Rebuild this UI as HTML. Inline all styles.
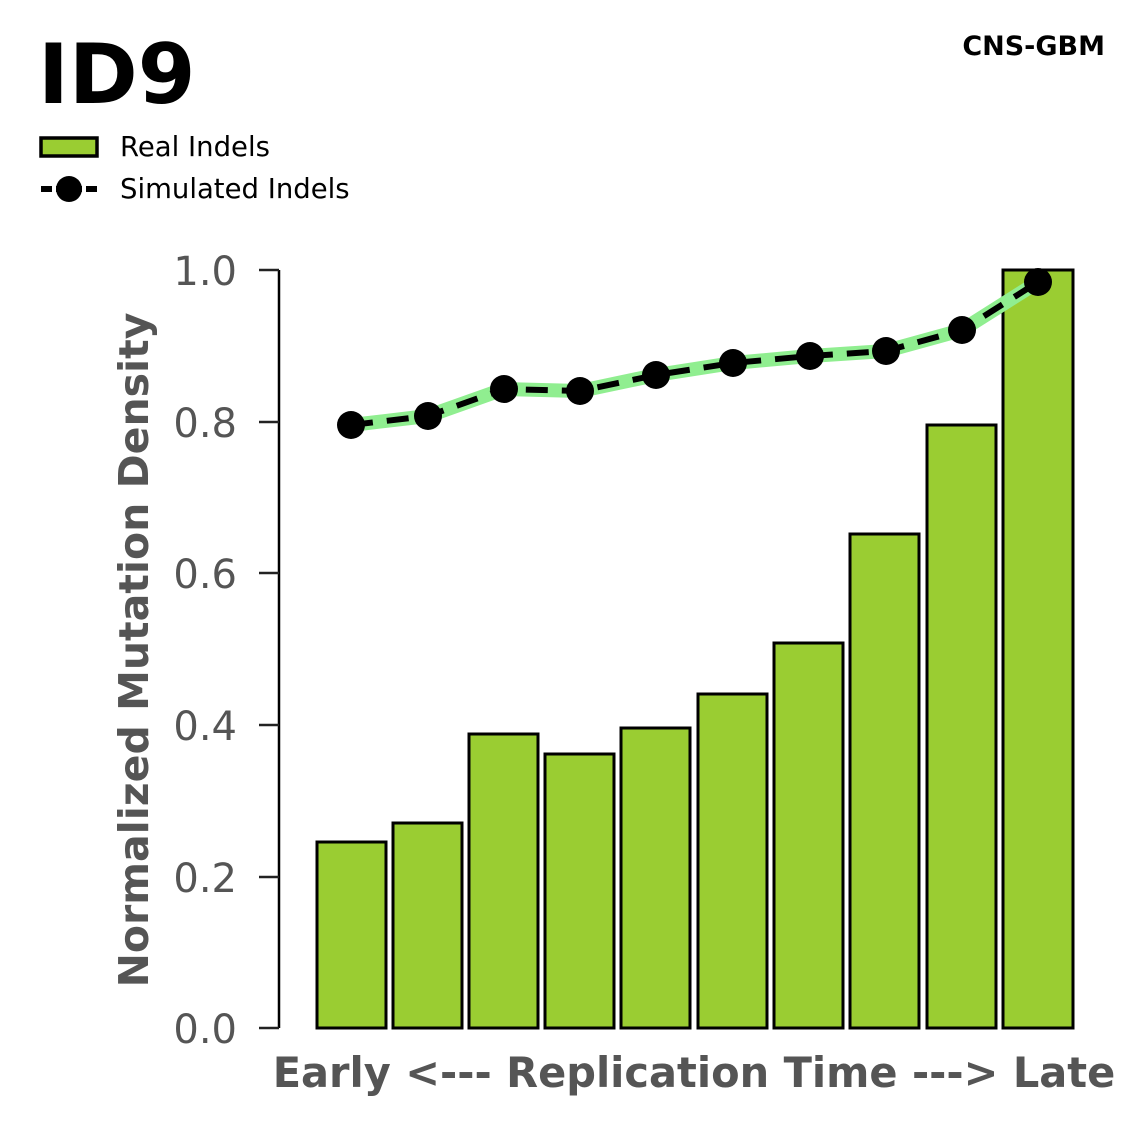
<!DOCTYPE html>
<html><head><meta charset="utf-8"><style>
html,body{margin:0;padding:0;background:#fff;}
svg{display:block;font-family:"DejaVu Sans","Liberation Sans",sans-serif;}
</style></head><body>
<svg width="1147" height="1125" viewBox="0 0 1147 1125" xmlns="http://www.w3.org/2000/svg">
<text x="38" y="103" font-size="83" font-weight="bold" fill="#000">ID9</text>
<text x="1105" y="55" font-size="27" font-weight="bold" fill="#000" text-anchor="end">CNS-GBM</text>
<rect x="41" y="138" width="56" height="18" fill="#9ACD32" stroke="#000" stroke-width="3.5"/>
<text x="120" y="156" font-size="27.5" fill="#000">Real Indels</text>
<line x1="41" y1="189" x2="97" y2="189" stroke="#000" stroke-width="6"/>
<rect x="52" y="185" width="4" height="8" fill="#fff"/><rect x="82" y="185" width="4" height="8" fill="#fff"/>
<circle cx="69" cy="189" r="13" fill="#000"/>
<text x="120" y="198" font-size="27.5" fill="#000">Simulated Indels</text>
<g fill="#9ACD32" stroke="#000" stroke-width="3">
<rect x="317" y="842" width="69" height="186"/>
<rect x="393" y="823" width="69" height="205"/>
<rect x="469" y="734" width="69" height="294"/>
<rect x="545" y="754" width="69" height="274"/>
<rect x="621" y="728" width="69" height="300"/>
<rect x="698" y="694" width="69" height="334"/>
<rect x="774" y="643" width="69" height="385"/>
<rect x="850" y="534" width="69" height="494"/>
<rect x="927" y="425" width="69" height="603"/>
<rect x="1003" y="270" width="70" height="758"/>
</g>
<line x1="279" y1="270" x2="279" y2="1028" stroke="#000" stroke-width="2.5"/>
<g stroke="#222" stroke-width="2.5">
<line x1="259" y1="270" x2="279" y2="270"/><line x1="259" y1="422" x2="279" y2="422"/><line x1="259" y1="573" x2="279" y2="573"/><line x1="259" y1="725" x2="279" y2="725"/><line x1="259" y1="877" x2="279" y2="877"/><line x1="259" y1="1028" x2="279" y2="1028"/>
</g>
<g font-size="40" fill="#555" text-anchor="end">
<text x="237" y="285">1.0</text><text x="237" y="437">0.8</text><text x="237" y="588">0.6</text><text x="237" y="740">0.4</text><text x="237" y="892">0.2</text><text x="237" y="1043">0.0</text>
</g>
<polyline points="351,425 428,416 504,389 580,391 656,375 733,363 810,356 886,351 962,330 1038,282" fill="none" stroke="#90EE90" stroke-width="14" stroke-linejoin="round"/>
<polyline points="351,425 428,416 504,389 580,391 656,375 733,363 810,356 886,351 962,330 1038,282" fill="none" stroke="#000" stroke-width="6" stroke-dasharray="22,14"/>
<g fill="#000">
<circle cx="351" cy="425" r="14"/><circle cx="428" cy="416" r="14"/><circle cx="504" cy="389" r="14"/><circle cx="580" cy="391" r="14"/><circle cx="656" cy="375" r="14"/><circle cx="733" cy="363" r="14"/><circle cx="810" cy="356" r="14"/><circle cx="886" cy="351" r="14"/><circle cx="962" cy="330" r="14"/><circle cx="1038" cy="282" r="14"/>
</g>
<text transform="translate(148,650) rotate(-90)" font-size="41" font-weight="bold" fill="#555" text-anchor="middle">Normalized Mutation Density</text>
<text x="694" y="1087" font-size="41.5" font-weight="bold" fill="#555" text-anchor="middle">Early &lt;--- Replication Time ---&gt; Late</text>
</svg>
</body></html>
